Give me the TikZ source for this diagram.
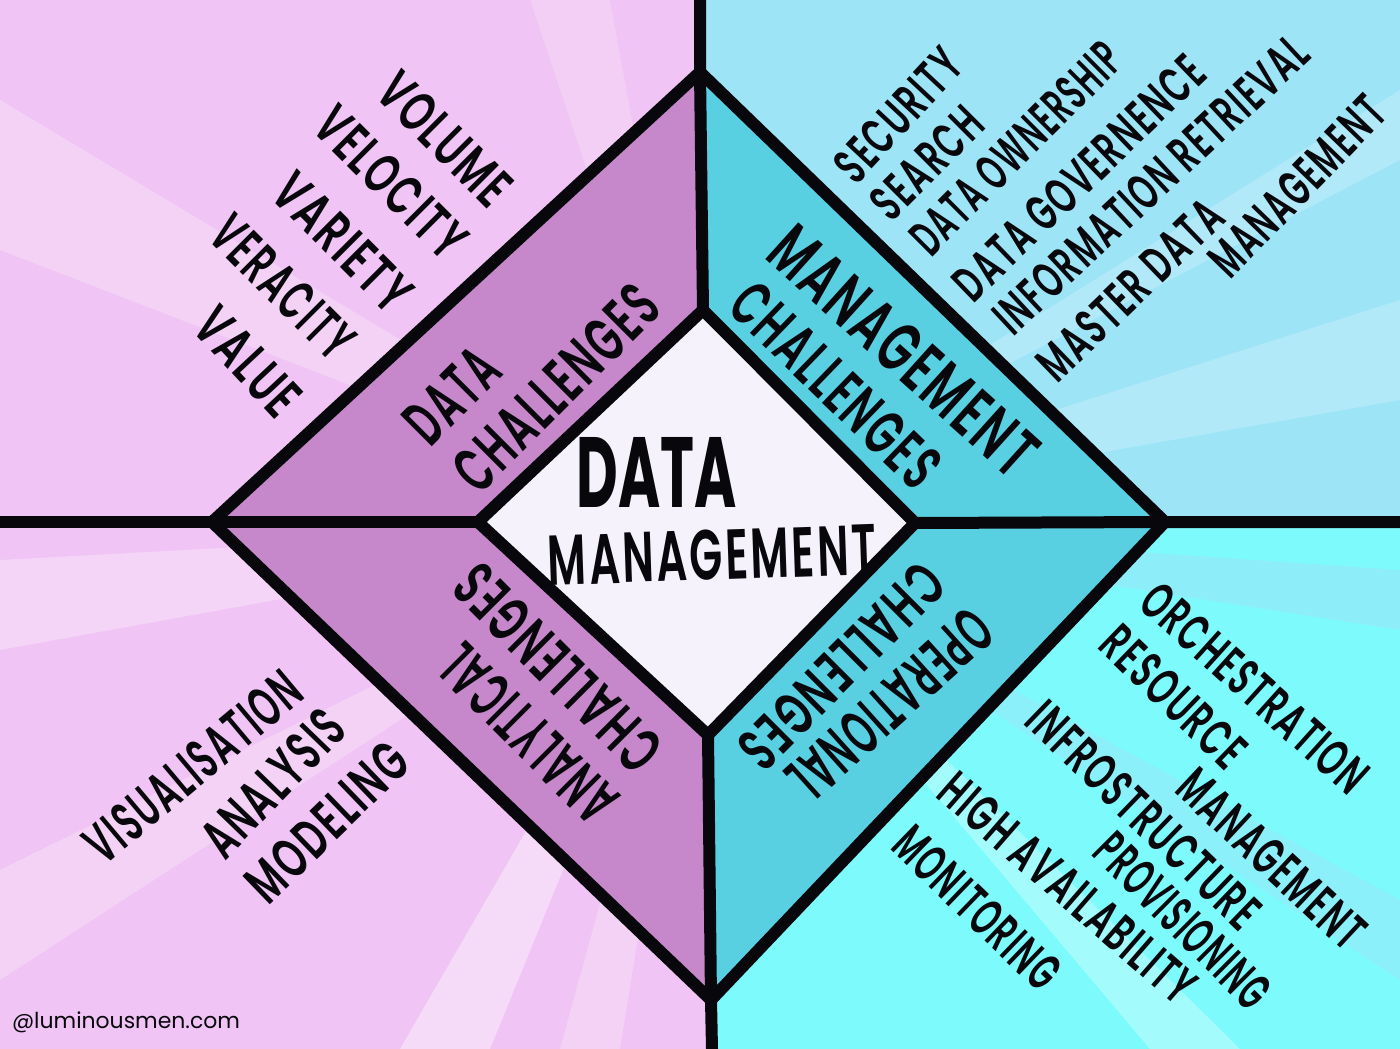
\documentclass[tikz,border=0pt]{standalone}
\usepackage{fontspec}
\usepackage{graphicx}
\newfontfamily\handfont{Poppins}[UprightFont={* SemiBold}, LetterSpace=6]
\newfontfamily\signfont{Poppins}

\definecolor{pinkbg}{RGB}{240,196,244}
\definecolor{skybg}{RGB}{158,228,247}
\definecolor{aquabg}{RGB}{125,250,252}
\definecolor{bandpurple}{RGB}{198,136,202}
\definecolor{bandteal}{RGB}{88,208,226}
\definecolor{coreshade}{RGB}{246,242,252}
\definecolor{ink}{RGB}{8,8,12}

% hand-lettered label: width, cap height, text
\newcommand\hw[3]{\resizebox{#1pt}{#2pt}{\handfont #3}}

\tikzset{
  lbl/.style={inner sep=0pt, outer sep=0pt, text=ink},
  rule/.style={draw=ink, line width=12pt, line join=round, line cap=round},
  streak/.style={fill=white, opacity=0.25},
}

\begin{document}
\begin{tikzpicture}[x=1pt,y=1pt]
\useasboundingbox (0,0) rectangle (1400,-1049);

% frame points
\coordinate (Ntop)   at (700,0);
\coordinate (Nbot)   at (712,-1049);
\coordinate (Wmid)   at (0,-522);
\coordinate (Emid)   at (1400,-522);
\coordinate (Otop)   at (700,-72);
\coordinate (Oleft)  at (212,-522);
\coordinate (Oright) at (1165,-522);
\coordinate (Obot)   at (711,-1000);
\coordinate (Itop)   at (703,-310);
\coordinate (Ileft)  at (478,-522);
\coordinate (Iright) at (915,-523);
\coordinate (Ibot)   at (708,-735);
\coordinate (Hub)    at (705,-522);

% quadrant backgrounds
\fill[pinkbg] (Ntop) -- (Itop) -- (Ibot) -- (Nbot) -- (0,-1049) -- (0,0) -- cycle;
\fill[skybg]  (Ntop) -- (1400,0) -- (Emid) -- (Iright) -- (Itop) -- cycle;
\fill[aquabg] (Iright) -- (Emid) -- (1400,-1049) -- (Nbot) -- (Ibot) -- cycle;

% light streaks radiating from the middle
\fill[streak] (Hub) -- (0,-100) -- (0,-250) -- cycle;
\fill[streak, opacity=0.2] (Hub) -- (530,0) -- (610,0) -- cycle;
\fill[streak, opacity=0.4] (Hub) -- (400,-1049) -- (490,-1049) -- cycle;
\fill[streak, opacity=0.25] (Hub) -- (560,-1049) -- (620,-1049) -- cycle;
\fill[streak, opacity=0.3] (Hub) -- (0,-560) -- (0,-650) -- cycle;
\fill[streak, opacity=0.25] (Hub) -- (0,-870) -- (0,-980) -- cycle;
\fill[streak, opacity=0.2] (Hub) -- (1400,-300) -- (1400,-400) -- cycle;
\fill[streak, opacity=0.2] (Hub) -- (1400,-90) -- (1400,-160) -- cycle;
\fill[skybg, opacity=0.5] (Hub) -- (1400,-570) -- (1400,-630) -- cycle;
\fill[skybg, opacity=0.45] (Hub) -- (1400,-900) -- (1400,-980) -- cycle;
\fill[streak, opacity=0.3] (Hub) -- (1150,-1049) -- (1240,-1049) -- cycle;

% challenge bands and core
\fill[bandpurple] (Otop) -- (Oleft) -- (Obot) -- (Ibot) -- (Itop) -- cycle;
\fill[bandteal]   (Otop) -- (Itop) -- (Ibot) -- (Obot) -- (Oright) -- cycle;
\fill[coreshade]  (Itop) -- (Iright) -- (Ibot) -- (Ileft) -- cycle;

% dividing lines
\draw[rule] (Ntop) -- (Otop) -- (Itop);
\draw[rule] (Ibot) -- (Obot) -- (Nbot);
\draw[rule] (Wmid) -- (Oleft) -- (Ileft);
\draw[rule] (Iright) -- (Oright) -- (Emid);
\draw[rule] (Otop) -- (Oright) -- (Obot) -- (Oleft) -- cycle;
\draw[rule] (Itop) -- (Iright) -- (Ibot) -- (Ileft) -- cycle;

% core title
\node[lbl] (title1) at (657,-472) {\resizebox{160pt}{70pt}{\signfont\bfseries DATA}};
\node[lbl, rotate=2] (title2) at (712,-555) {\hw{328}{50}{MANAGEMENT}};

% band labels
\node[lbl, rotate=45] (bandD1) at (452,-395) {\hw{105}{45}{DATA}};
\node[lbl, rotate=45] (bandD2) at (556,-388) {\hw{262}{45}{CHALLENGES}};
\node[lbl, rotate=-42] (bandM1) at (904,-351) {\hw{333}{50}{MANAGEMENT}};
\node[lbl, rotate=-44] (bandM2) at (836,-385) {\hw{263}{45}{CHALLENGES}};
\node[lbl, rotate=135] (bandA1) at (528,-734) {\hw{222}{45}{ANALYTICAL}};
\node[lbl, rotate=135] (bandA2) at (558,-668) {\hw{263}{45}{CHALLENGES}};
\node[lbl, rotate=222] (bandO1) at (890,-705) {\hw{250}{45}{OPERATIONAL}};
\node[lbl, rotate=225] (bandO2) at (842,-666) {\hw{262}{43}{CHALLENGES}};

% data challenges list
\node[lbl, rotate=-45] (tl1) at (445,-139) {\hw{164}{40}{VOLUME}};
\node[lbl, rotate=-45] (tl2) at (391,-182) {\hw{189}{40}{VELOCITY}};
\node[lbl, rotate=-45] (tl3) at (343,-242) {\hw{170}{40}{VARIETY}};
\node[lbl, rotate=-45] (tl4) at (283,-287) {\hw{176}{40}{VERACITY}};
\node[lbl, rotate=-47] (tl5) at (248,-362) {\hw{126}{40}{VALUE}};

% management challenges list
\node[lbl, rotate=47] (tr1) at (898,-115) {\hw{161}{36}{SECURITY}};
\node[lbl, rotate=45] (tr2) at (927,-163) {\hw{135}{36}{SEARCH}};
\node[lbl, rotate=45] (tr3) at (1016,-148) {\hw{276}{36}{DATA OWNERSHIP}};
\node[lbl, rotate=44] (tr4) at (1079,-178) {\hw{327}{36}{DATA GOVERNENCE}};
\node[lbl, rotate=43] (tr5) at (1151,-185) {\hw{410}{36}{INFORMATION RETRIEVAL}};
\node[lbl, rotate=44] (tr6) at (1130,-290) {\hw{236}{36}{MASTER DATA}};
\node[lbl, rotate=46] (tr7) at (1297,-186) {\hw{228}{36}{MANAGEMENT}};

% operational challenges list
\node[lbl, rotate=-42] (br1) at (1255,-688) {\hw{285}{37}{ORCHESTRATION}};
\node[lbl, rotate=-44] (br2) at (1174,-697) {\hw{179}{37}{RESOURCE}};
\node[lbl, rotate=-43] (br3) at (1272,-859) {\hw{236}{37}{MANAGEMENT}};
\node[lbl, rotate=-44] (br4) at (1144,-815) {\hw{302}{37}{INFROSTRUCTURE}};
\node[lbl, rotate=-45] (br5) at (1183,-921) {\hw{224}{37}{PROVISIONING}};
\node[lbl, rotate=-41] (br6) at (1068,-888) {\hw{321}{37}{HIGH AVAILABILITY}};
\node[lbl, rotate=-44] (br7) at (977,-908) {\hw{209}{37}{MONITORING}};

% analytical challenges list
\node[lbl, rotate=40] (bl1) at (193,-767) {\hw{263}{40}{VISUALISATION}};
\node[lbl, rotate=46] (bl2) at (273,-783) {\hw{179}{40}{ANALYSIS}};
\node[lbl, rotate=44] (bl3) at (327,-822) {\hw{201}{40}{MODELING}};

% signature
\node[lbl, anchor=west] (credit) at (12,-1022) {\resizebox{228pt}{!}{\signfont @luminousmen.com}};
\end{tikzpicture}
\end{document}
